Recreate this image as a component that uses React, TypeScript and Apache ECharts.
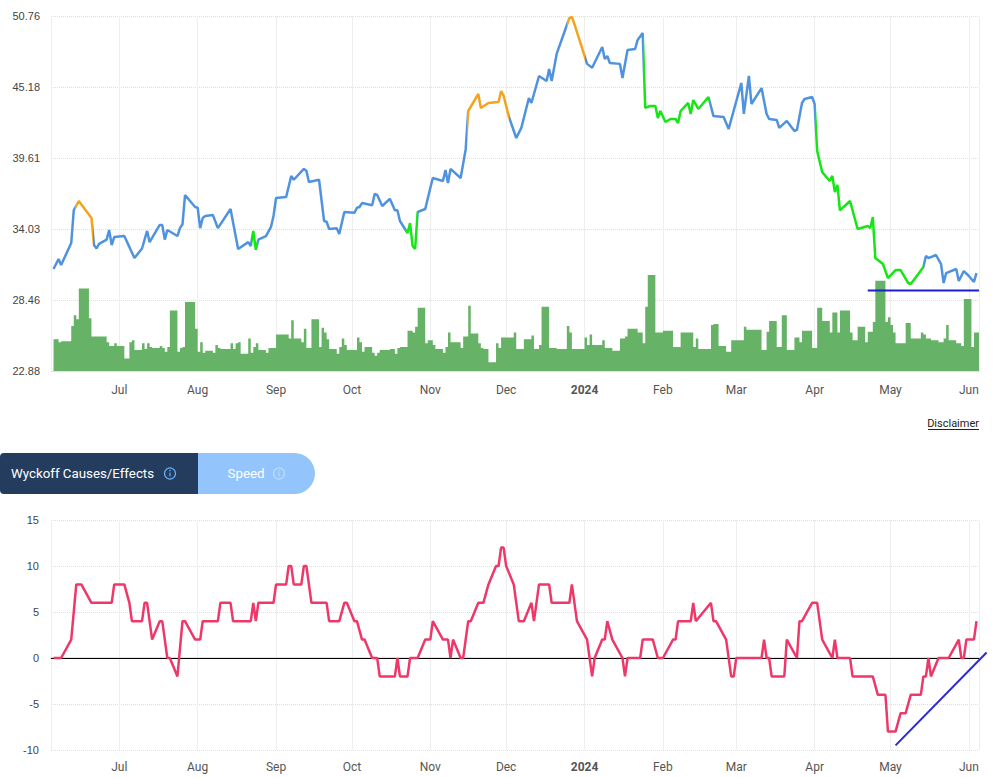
import React, { useEffect, useRef } from "react";
import * as echarts from "echarts";

// ---------- DATA ----------
const priceDates = [
  "2023-06-05","2023-06-07","2023-06-08","2023-06-12","2023-06-13","2023-06-15","2023-06-20","2023-06-21","2023-06-22","2023-06-23",
  "2023-06-26","2023-06-27","2023-06-28","2023-06-29","2023-07-03","2023-07-07","2023-07-10","2023-07-12","2023-07-13","2023-07-17",
  "2023-07-18","2023-07-19","2023-07-20","2023-07-24","2023-07-25","2023-07-26","2023-07-27","2023-07-31","2023-08-01","2023-08-02",
  "2023-08-03","2023-08-04","2023-08-07","2023-08-09","2023-08-14","2023-08-17","2023-08-21","2023-08-22","2023-08-23","2023-08-24",
  "2023-08-25","2023-08-28","2023-08-30","2023-08-31","2023-09-01","2023-09-05","2023-09-07","2023-09-08","2023-09-12","2023-09-13",
  "2023-09-14","2023-09-18","2023-09-20","2023-09-21","2023-09-22","2023-09-25","2023-09-26","2023-09-28","2023-10-02","2023-10-03",
  "2023-10-04","2023-10-05","2023-10-09","2023-10-10","2023-10-11","2023-10-13","2023-10-16","2023-10-18","2023-10-19","2023-10-20",
  "2023-10-23","2023-10-24","2023-10-25","2023-10-26","2023-10-27","2023-10-30","2023-11-01","2023-11-02","2023-11-06","2023-11-07",
  "2023-11-08","2023-11-09","2023-11-13","2023-11-15","2023-11-16","2023-11-20","2023-11-21","2023-11-24","2023-11-28","2023-11-29",
  "2023-11-30","2023-12-02","2023-12-05","2023-12-07","2023-12-10","2023-12-11","2023-12-14","2023-12-17","2023-12-18","2023-12-19",
  "2023-12-21","2023-12-26","2023-12-27","2023-12-28","2023-12-31","2024-01-02","2024-01-04","2024-01-08","2024-01-09","2024-01-10",
  "2024-01-11","2024-01-15","2024-01-16","2024-01-18","2024-01-21","2024-01-22","2024-01-24","2024-01-25","2024-01-27","2024-01-29",
  "2024-01-30","2024-01-31","2024-02-02","2024-02-04","2024-02-06","2024-02-07","2024-02-08","2024-02-11","2024-02-12","2024-02-13",
  "2024-02-15","2024-02-19","2024-02-21","2024-02-25","2024-02-27","2024-03-03","2024-03-04","2024-03-06","2024-03-07","2024-03-11",
  "2024-03-13","2024-03-14","2024-03-17","2024-03-18","2024-03-21","2024-03-24","2024-03-25","2024-03-27","2024-03-28","2024-03-31",
  "2024-04-01","2024-04-02","2024-04-04","2024-04-07","2024-04-08","2024-04-09","2024-04-10","2024-04-11","2024-04-15","2024-04-18",
  "2024-04-22","2024-04-23","2024-04-24","2024-04-25","2024-04-28","2024-04-30","2024-05-03","2024-05-05","2024-05-08","2024-05-09",
  "2024-05-12","2024-05-14","2024-05-15","2024-05-16","2024-05-19","2024-05-21","2024-05-22","2024-05-23","2024-05-27","2024-05-28",
  "2024-05-30","2024-06-01","2024-06-03","2024-06-04"
];
const priceValues = [
  30.89,31.68,31.2,32.93,35.5,36.23,34.9,32.77,32.5,32.86,
  33.2,33.95,32.77,33.4,33.48,31.75,32.5,33.88,33.0,34.35,
  34.35,33.2,33.95,33.48,34.1,34.4,36.7,35.76,35.7,34.1,
  34.9,35.05,35.13,34.1,35.6,32.46,33.0,32.7,33.88,32.4,
  33.2,33.48,34.2,35.05,36.47,36.55,38.2,37.9,38.75,38.6,
  37.72,37.9,34.66,34.6,34.03,34.1,33.64,35.37,35.3,35.7,
  35.76,36.07,35.9,36.78,36.7,35.84,36.4,35.5,35.5,34.66,
  33.72,34.5,32.7,32.46,35.37,35.6,37.25,38.04,37.8,38.67,
  37.65,38.75,38.04,40.3,43.3,44.64,43.54,43.93,44.0,44.87,
  44.5,42.9,41.18,41.97,44.32,43.93,46.05,45.66,46.6,45.66,
  47.8,50.6,50.68,50.13,48.25,47.0,46.7,48.33,47.38,47.62,
  47.07,47.0,45.89,48.09,48.17,48.88,49.43,43.54,43.69,43.69,
  42.75,43.3,42.44,42.67,42.67,42.36,43.3,43.93,43.07,44.16,
  43.46,44.4,42.9,42.83,41.89,45.5,43.07,46.05,43.85,45.1,
  43.07,42.67,42.6,41.97,42.52,41.73,41.81,43.93,44.24,44.4,
  43.85,40.16,38.5,37.8,38.2,36.94,37.49,35.5,36.23,34.03,
  34.27,34.1,34.97,31.75,31.28,30.18,30.81,30.81,29.79,29.71,
  30.5,31.05,31.91,31.75,31.99,31.28,29.79,30.57,30.89,29.95,
  30.73,30.34,29.87,30.57
];

const volumeDates = [
  "2023-06-05","2023-06-07","2023-06-08","2023-06-12","2023-06-13","2023-06-14","2023-06-15","2023-06-19","2023-06-20","2023-06-26",
  "2023-06-27","2023-06-29","2023-06-30","2023-07-03","2023-07-05","2023-07-06","2023-07-07","2023-07-10","2023-07-11","2023-07-12",
  "2023-07-13","2023-07-14","2023-07-17","2023-07-18","2023-07-19","2023-07-20","2023-07-21","2023-07-24","2023-07-25","2023-07-26",
  "2023-07-27","2023-07-31","2023-08-01","2023-08-02","2023-08-03","2023-08-04","2023-08-07","2023-08-08","2023-08-09","2023-08-10",
  "2023-08-14","2023-08-15","2023-08-16","2023-08-17","2023-08-18","2023-08-21","2023-08-22","2023-08-23","2023-08-24","2023-08-25",
  "2023-08-28","2023-08-29","2023-09-01","2023-09-06","2023-09-07","2023-09-08","2023-09-11","2023-09-12","2023-09-13","2023-09-15",
  "2023-09-18","2023-09-19","2023-09-20","2023-09-21","2023-09-22","2023-09-25","2023-09-26","2023-09-27","2023-09-28","2023-09-29",
  "2023-10-03","2023-10-04","2023-10-05","2023-10-06","2023-10-09","2023-10-10","2023-10-11","2023-10-12","2023-10-16","2023-10-18",
  "2023-10-19","2023-10-20","2023-10-23","2023-10-25","2023-10-26","2023-10-27","2023-10-30","2023-10-31","2023-11-02","2023-11-03",
  "2023-11-06","2023-11-07","2023-11-08","2023-11-09","2023-11-13","2023-11-14","2023-11-16","2023-11-17","2023-11-20","2023-11-21",
  "2023-11-22","2023-11-24","2023-11-27","2023-11-28","2023-11-29","2023-12-04","2023-12-05","2023-12-08","2023-12-11","2023-12-12",
  "2023-12-14","2023-12-15","2023-12-18","2023-12-21","2023-12-25","2023-12-26","2023-12-27","2024-01-01","2024-01-02","2024-01-03",
  "2024-01-04","2024-01-08","2024-01-09","2024-01-12","2024-01-15","2024-01-17","2024-01-18","2024-01-22","2024-01-24","2024-01-25",
  "2024-01-26","2024-01-29","2024-02-01","2024-02-05","2024-02-08","2024-02-13","2024-02-14","2024-02-15","2024-02-20","2024-02-21",
  "2024-02-23","2024-02-26","2024-02-28","2024-03-04","2024-03-05","2024-03-11","2024-03-13","2024-03-14","2024-03-17","2024-03-19",
  "2024-03-21","2024-03-24","2024-03-26","2024-03-27","2024-03-31","2024-04-02","2024-04-04","2024-04-07","2024-04-08","2024-04-10",
  "2024-04-11","2024-04-15","2024-04-16","2024-04-18","2024-04-21","2024-04-22","2024-04-24","2024-04-25","2024-04-29","2024-04-30",
  "2024-05-01","2024-05-02","2024-05-03","2024-05-07","2024-05-09","2024-05-13","2024-05-14","2024-05-15","2024-05-17","2024-05-20",
  "2024-05-22","2024-05-23","2024-05-24","2024-05-27","2024-05-29","2024-05-30","2024-06-02","2024-06-03","2024-06-05"
];
const volumeValues = [
  3.3,3.0,3.1,4.7,5.8,5.4,8.6,5.5,3.6,3.0,
  2.6,2.9,2.6,1.3,3.0,3.2,2.2,2.9,2.3,2.9,
  2.5,2.4,2.6,2.4,2.0,2.5,6.3,2.0,2.4,2.5,
  7.2,4.4,2.0,3.0,1.9,2.1,1.9,2.7,2.4,2.3,
  2.9,2.3,2.9,3.0,1.8,3.4,1.9,2.5,2.9,2.2,
  1.9,2.4,3.8,3.4,5.3,3.4,3.0,4.4,2.4,5.4,
  2.5,4.5,4.0,3.3,2.3,1.8,2.5,3.4,2.7,2.2,
  3.5,3.0,2.0,2.5,1.9,1.6,1.9,2.2,2.3,1.8,
  2.4,2.5,4.2,4.0,4.6,6.6,2.9,3.2,2.7,2.3,
  1.9,2.5,4.0,3.0,2.4,3.6,6.8,3.9,2.9,2.4,
  2.3,0.9,2.9,2.4,3.5,4.0,2.3,3.3,3.7,2.3,
  2.7,6.7,2.4,2.3,4.7,4.0,2.3,3.5,2.7,3.8,
  2.7,3.2,2.4,2.1,3.4,3.6,4.4,4.0,2.9,6.7,
  10.0,4.0,4.2,2.5,4.0,2.5,3.4,2.3,4.8,4.9,
  2.6,2.0,3.2,4.6,4.3,2.2,4.1,5.2,2.5,5.8,
  2.2,3.5,3.0,4.2,2.4,6.6,5.2,4.0,6.1,4.0,
  6.3,4.0,3.2,4.6,3.0,4.1,5.1,9.4,5.1,5.6,
  4.8,4.0,2.9,5.0,3.4,4.0,3.8,3.4,3.2,3.0,
  3.4,4.8,3.2,2.9,2.6,7.5,2.5,4.0,4.0
];

const causeDates = [
  "2023-06-05","2023-06-08","2023-06-12","2023-06-14","2023-06-16","2023-06-20","2023-06-28","2023-06-29","2023-07-03","2023-07-05",
  "2023-07-06","2023-07-10","2023-07-11","2023-07-12","2023-07-14","2023-07-17","2023-07-18","2023-07-20","2023-07-21","2023-07-24",
  "2023-07-26","2023-07-27","2023-07-31","2023-08-02","2023-08-03","2023-08-09","2023-08-10","2023-08-14","2023-08-15","2023-08-22",
  "2023-08-23","2023-08-24","2023-08-25","2023-08-31","2023-09-01","2023-09-05","2023-09-06","2023-09-07","2023-09-08","2023-09-11",
  "2023-09-12","2023-09-13","2023-09-15","2023-09-21","2023-09-22","2023-09-26","2023-09-28","2023-09-29","2023-10-02","2023-10-03",
  "2023-10-05","2023-10-06","2023-10-09","2023-10-11","2023-10-12","2023-10-18","2023-10-19","2023-10-20","2023-10-23","2023-10-24",
  "2023-10-27","2023-10-30","2023-11-01","2023-11-02","2023-11-06","2023-11-08","2023-11-09","2023-11-10","2023-11-13","2023-11-14",
  "2023-11-16","2023-11-17","2023-11-20","2023-11-22","2023-11-24","2023-11-27","2023-11-28","2023-11-29","2023-11-30","2023-12-01",
  "2023-12-04","2023-12-06","2023-12-08","2023-12-11","2023-12-12","2023-12-14","2023-12-18","2023-12-19","2023-12-26","2023-12-27",
  "2023-12-29","2024-01-02","2024-01-04","2024-01-05","2024-01-08","2024-01-09","2024-01-10","2024-01-12","2024-01-16","2024-01-17",
  "2024-01-18","2024-01-23","2024-01-24","2024-01-28","2024-01-30","2024-02-01","2024-02-05","2024-02-06","2024-02-07","2024-02-12",
  "2024-02-13","2024-02-14","2024-02-20","2024-02-21","2024-02-22","2024-02-26","2024-02-28","2024-02-29","2024-03-01","2024-03-11",
  "2024-03-12","2024-03-13","2024-03-14","2024-03-15","2024-03-20","2024-03-21","2024-03-25","2024-03-26","2024-03-27","2024-03-31",
  "2024-04-02","2024-04-04","2024-04-08","2024-04-09","2024-04-10","2024-04-15","2024-04-16","2024-04-24","2024-04-26","2024-04-29",
  "2024-04-30","2024-05-03","2024-05-05","2024-05-07","2024-05-09","2024-05-13","2024-05-14","2024-05-15","2024-05-16","2024-05-17",
  "2024-05-20","2024-05-24","2024-05-28","2024-05-29","2024-05-30","2024-05-31","2024-06-03","2024-06-04"
];
const causeValues = [
  0,0,2,8,8,6,6,8,8,6,
  4,4,6,6,2,4,4,0,0,-2,
  4,4,2,2,4,4,6,6,4,4,
  6,4,6,6,8,8,10,10,8,8,
  10,10,6,6,4,4,6,6,4,4,
  2,2,0,0,-2,-2,0,-2,-2,0,
  0,2,2,4,2,2,0,2,0,0,
  4,4,6,6,8,10,10,12,12,10,
  8,4,4,6,4,8,8,6,6,8,
  4,2,-2,0,2,2,4,2,0,-2,
  0,0,2,2,0,0,2,2,4,4,
  6,4,6,4,4,2,-2,-2,0,0,
  2,0,0,-2,-2,2,0,4,4,6,
  6,2,0,2,0,0,-2,-2,-4,-4,
  -8,-8,-6,-6,-4,-4,-2,-2,0,-2,
  0,0,2,0,0,2,2,4
];

// colour regimes of the price line (break dates and the colour that follows each)
const regimeBreaks = [
  "2023-06-13 12:00","2023-06-20 18:00","2023-08-22 12:00","2023-08-24 18:00","2023-10-22 12:00","2023-10-27 00:00",
  "2023-11-15 12:00","2023-12-02 00:00","2023-12-25 00:00","2024-01-01 00:00","2024-01-24 00:00","2024-02-19 12:00",
  "2024-04-01 00:00","2024-05-14 00:00"
];
const regimeColors = [
  "blue","orange","blue","green","blue","green","blue","orange","blue","orange","blue","green","blue","green","blue"
];

const supportLevel = 29.2;
const supportDates = ["2024-04-22", "2024-06-05"];
const trendDates = ["2024-05-03", "2024-06-08"];
const trendValues = [-9.5, 0.6];

const axisStart = "2023-06-04";
const axisEnd = "2024-06-05";
const priceMin = 22.88;
const priceMax = 50.76;
const priceStep = 5.576;
const volumeAxisMax = 37;
const causeMin = -10;
const causeMax = 15;
const causeStep = 5;

// ---------- helpers ----------
const toTime = (s: string) => {
  const [d, t] = s.split(" ");
  const [y, m, dd] = d.split("-").map(Number);
  const [hh, mi] = t ? t.split(":").map(Number) : [0, 0];
  return new Date(y, m - 1, dd, hh, mi).getTime();
};
const zip = (ds: string[], vs: number[]) => ds.map((d, i) => [toTime(d), vs[i]]);

const COLORS: Record<string, string> = {
  blue: "#4f93df",
  orange: "#f2a41f",
  green: "#16e616",
};

const BTN_FONT = "13.3px Roboto, Arial, sans-serif";

const staticGraphics: any[] = [
  {
    type: "text",
    x: 979,
    y: 423,
    style: {
      text: "Disclaimer",
      fill: "#222",
      font: "11px Roboto, Arial, sans-serif",
      align: "right",
      verticalAlign: "middle",
    },
  },
  {
    type: "line",
    shape: { x1: 928, y1: 429.5, x2: 979, y2: 429.5 },
    style: { stroke: "#222", lineWidth: 1 },
  },
  {
    type: "rect",
    shape: { x: 198, y: 453, width: 117, height: 41, r: [0, 20.5, 20.5, 0] },
    style: { fill: "#93c4fb" },
  },
  {
    type: "rect",
    shape: { x: 0, y: 453, width: 198, height: 41, r: [4, 0, 0, 4] },
    style: { fill: "#243c5d" },
  },
  {
    type: "text",
    x: 11,
    y: 473.5,
    style: { text: "Wyckoff Causes/Effects", fill: "#ffffff", font: BTN_FONT, verticalAlign: "middle" },
  },
  { type: "circle", shape: { cx: 170, cy: 473.5, r: 5.5 }, style: { fill: "none", stroke: "#68aef7", lineWidth: 1.2 } },
  { type: "line", shape: { x1: 170, y1: 472.5, x2: 170, y2: 476.5 }, style: { stroke: "#68aef7", lineWidth: 1.2 } },
  { type: "circle", shape: { cx: 170, cy: 470.6, r: 0.7 }, style: { fill: "#68aef7" } },
  {
    type: "text",
    x: 246,
    y: 473.5,
    style: { text: "Speed", fill: "#ffffff", font: BTN_FONT, align: "center", verticalAlign: "middle" },
  },
  { type: "circle", shape: { cx: 279, cy: 473.5, r: 5.5 }, style: { fill: "none", stroke: "#bcdcfd", lineWidth: 1.2 } },
  { type: "line", shape: { x1: 279, y1: 472.5, x2: 279, y2: 476.5 }, style: { stroke: "#bcdcfd", lineWidth: 1.2 } },
  { type: "circle", shape: { cx: 279, cy: 470.6, r: 0.7 }, style: { fill: "#bcdcfd" } },
];

export default function App() {
  const ref = useRef<HTMLDivElement>(null);

  useEffect(() => {
    document.body.style.margin = "0";
    const chart = echarts.init(ref.current!, null, { renderer: "svg", width: 996, height: 778 });

    const breaksT = regimeBreaks.map(toTime);
    const pieces = regimeColors.map((c, i) => {
      const p: any = { color: COLORS[c] };
      if (i > 0) p.gte = breaksT[i - 1];
      if (i < breaksT.length) p.lt = breaksT[i];
      return p;
    });

    const xMin = toTime(axisStart);
    const xMax = toTime(axisEnd);
    const font = "Roboto, 'Liberation Sans', Arial, sans-serif";

    const timeAxis = (gridIndex: number, lineWidth: number, margin: number) => ({
      type: "time",
      gridIndex,
      min: xMin,
      max: xMax,
      splitNumber: 12,
      axisTick: { show: false },
      axisLine: { show: true, lineStyle: { color: "#e2e2e2", width: lineWidth } },
      splitLine: { show: true, lineStyle: { color: "#eeeeee", width: 1 } },
      axisLabel: {
        color: "#555",
        fontSize: 12,
        fontFamily: font,
        margin,
        hideOverlap: false,
        showMinLabel: false,
        showMaxLabel: false,
      },
    });

    const option: any = {
      animation: false,
      backgroundColor: "#fff",
      textStyle: { fontFamily: font },
      grid: [
        { left: 51, right: 17, top: 16, height: 355, outerBoundsMode: "none" },
        { left: 51, right: 17, top: 520, height: 230, outerBoundsMode: "none" },
      ],
      xAxis: [timeAxis(0, 1, 13), timeAxis(1, 2, 11)],
      yAxis: [
        {
          type: "value",
          gridIndex: 0,
          min: priceMin,
          max: priceMax,
          interval: priceStep,
          axisLine: { show: false },
          axisTick: { show: false },
          axisLabel: {
            color: "#444",
            fontSize: 11,
            margin: 11,
            fontFamily: "'Liberation Sans', Arial, sans-serif",
            formatter: (v: number) => v.toFixed(2),
          },
          splitLine: { show: true, lineStyle: { color: "#dedede", type: "dotted" } },
        },
        { type: "value", gridIndex: 0, min: 0, max: volumeAxisMax, show: false, splitLine: { show: false } },
        {
          type: "value",
          gridIndex: 1,
          min: causeMin,
          max: causeMax,
          interval: causeStep,
          axisLine: { show: false },
          axisTick: { show: false },
          axisLabel: {
            color: "#444",
            fontSize: 11,
            margin: 12,
            fontFamily: "'Liberation Sans', Arial, sans-serif",
          },
          splitLine: { show: true, lineStyle: { color: "#dedede", type: "dotted" } },
        },
      ],
      visualMap: [{ type: "piecewise", show: false, seriesIndex: 1, dimension: 0, pieces }],
      series: [
        {
          name: "Volume",
          type: "line",
          xAxisIndex: 0,
          yAxisIndex: 1,
          step: "end",
          symbol: "none",
          data: zip(volumeDates, volumeValues),
          lineStyle: { width: 0, color: "#66b266" },
          itemStyle: { color: "#66b266" },
          areaStyle: { color: "#66b266", opacity: 1 },
          z: 1,
          silent: true,
        },
        {
          name: "Price",
          type: "line",
          xAxisIndex: 0,
          yAxisIndex: 0,
          symbol: "none",
          data: zip(priceDates, priceValues),
          lineStyle: { width: 2.5 },
          z: 3,
          silent: true,
        },
        {
          name: "Support",
          type: "line",
          xAxisIndex: 0,
          yAxisIndex: 0,
          symbol: "none",
          data: supportDates.map((d) => [toTime(d), supportLevel]),
          lineStyle: { width: 2, color: "#1d1dd2" },
          itemStyle: { color: "#1d1dd2" },
          z: 4,
          silent: true,
        },
        {
          name: "Causes",
          type: "line",
          xAxisIndex: 1,
          yAxisIndex: 2,
          symbol: "none",
          data: zip(causeDates, causeValues),
          lineStyle: { width: 2.5, color: "#ef386a" },
          itemStyle: { color: "#ef386a" },
          z: 3,
          silent: true,
          markLine: {
            silent: true,
            symbol: ["none", "none"],
            label: { show: false },
            lineStyle: { color: "#000", width: 1, type: "solid" },
            data: [{ yAxis: 0 }],
            z: 2,
          },
        },
      ],
      graphic: staticGraphics,
    };

    chart.setOption(option);

    // trend line runs beyond the plot edge: place it through the chart's own scales
    const p0 = chart.convertToPixel({ xAxisIndex: 1, yAxisIndex: 2 } as any, [toTime(trendDates[0]), trendValues[0]]) as number[];
    const p1 = chart.convertToPixel({ xAxisIndex: 1, yAxisIndex: 2 } as any, [toTime(trendDates[1]), trendValues[1]]) as number[];
    if (p0 && p1) {
      chart.setOption({
        graphic: [
          ...staticGraphics,
          {
            type: "line",
            z: 10,
            shape: { x1: p0[0], y1: p0[1], x2: p1[0], y2: p1[1] },
            style: { stroke: "#2a2ad4", lineWidth: 2 },
          },
        ],
      });
    }

    return () => chart.dispose();
  }, []);

  return (
    <div style={{ position: "absolute", left: 0, top: 0, width: 996, height: 778 }}>
      <div ref={ref} style={{ width: 996, height: 778 }} />
    </div>
  );
}
